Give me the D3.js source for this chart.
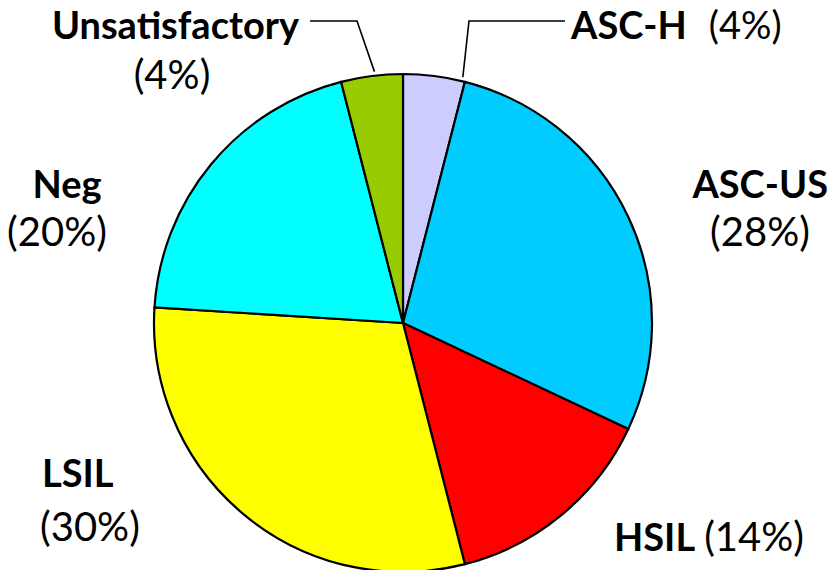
<!DOCTYPE html>
<html>
<head>
<meta charset="utf-8">
<script src="https://cdn.jsdelivr.net/npm/d3@7"></script>
<style>
  html, body { margin: 0; padding: 0; background: #fff; }
  svg { display: block; }
  text { font-family: Lato, "Open Sans", sans-serif; fill: #000; }
</style>
</head>
<body>
<svg id="chart" width="837" height="570"></svg>
<script>
// Cytology result categories, clockwise from 12 o'clock
const categories = ["ASC-H", "ASC-US", "HSIL", "LSIL", "Neg", "Unsatisfactory"];
const percents   = [4, 28, 14, 30, 20, 4];
const colors     = ["#CCCCFF", "#00CCFF", "#FF0000", "#FFFF00", "#00FFFF", "#99CC00"];

// Label placement. Two-line labels: name and percent each get (anchor, x, baseline).
// Single-line labels: name starts at x, percent follows after a gap.
const labelLayout = {
  "ASC-H":          { inline: true, x: 571, y: 39, gap: 22, size: 38 },
  "ASC-US":         { name: ["end", 828, 198], pct: ["middle", 760, 246] },
  "HSIL":           { inline: true, x: 614, y: 551, gap: 9, size: 40 },
  "LSIL":           { name: ["start", 42, 487], pct: ["start", 40, 541] },
  "Neg":            { name: ["middle", 67, 198], pct: ["middle", 57, 246] },
  "Unsatisfactory": { name: ["end", 299, 39], pct: ["middle", 172, 89] }
};
// Leader lines: start offset (fraction of slice angle, gap beyond rim), elbow, end
const leaderLayout = {
  "ASC-H":          { frac: 0.95, gap: 4, elbow: [469, 21], end: [565, 21] },
  "Unsatisfactory": { frac: 0.55, gap: 4, elbow: [357, 21], end: [310, 21] }
};

const svg = d3.select("#chart");
const cx = 403, cy = 323, radius = 249;

const pie = d3.pie().sort(null).value(d => d.value);
const arc = d3.arc().innerRadius(0).outerRadius(radius);
const color = d3.scaleOrdinal().domain(categories).range(colors);

const data = categories.map((c, i) => ({ name: c, value: percents[i] }));
const arcs = pie(data);

const g = svg.append("g").attr("transform", `translate(${cx},${cy})`);

g.selectAll("path.slice")
  .data(arcs)
  .join("path")
  .attr("class", "slice")
  .attr("d", arc)
  .attr("fill", d => color(d.data.name))
  .attr("stroke", "#000")
  .attr("stroke-width", 2.2)
  .attr("stroke-linejoin", "round");

// Leader lines
arcs.forEach(a => {
  const L = leaderLayout[a.data.name];
  if (!L) return;
  const ang = a.startAngle + (a.endAngle - a.startAngle) * L.frac;
  const r = radius + L.gap;
  const sx = cx + r * Math.sin(ang), sy = cy - r * Math.cos(ang);
  svg.append("polyline")
    .attr("points", [[sx, sy], L.elbow, L.end].map(p => p.join(",")).join(" "))
    .attr("fill", "none")
    .attr("stroke", "#000")
    .attr("stroke-width", 1.6);
});

// Labels
arcs.forEach(a => {
  const L = labelLayout[a.data.name];
  if (L.inline) {
    const t = svg.append("text").attr("x", L.x).attr("y", L.y);
    t.append("tspan")
      .attr("font-size", 38)
      .attr("font-weight", "bold")
      .text(a.data.name);
    t.append("tspan")
      .attr("dx", L.gap)
      .attr("font-size", L.size)
      .text(`(${a.data.value}%)`);
    return;
  }
  svg.append("text")
    .attr("text-anchor", L.name[0])
    .attr("x", L.name[1]).attr("y", L.name[2])
    .attr("font-size", 38)
    .attr("font-weight", "bold")
    .text(a.data.name);
  svg.append("text")
    .attr("text-anchor", L.pct[0])
    .attr("x", L.pct[1]).attr("y", L.pct[2])
    .attr("font-size", 40)
    .text(`(${a.data.value}%)`);
});
</script>
</body>
</html>
